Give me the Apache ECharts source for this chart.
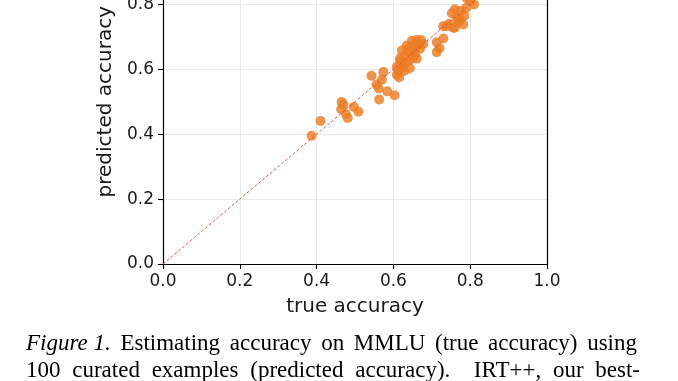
<!DOCTYPE html>
<html>
<head>
<meta charset="utf-8">
<script src="https://cdn.jsdelivr.net/npm/echarts@6/dist/echarts.min.js"></script>
<style>
html,body{margin:0;padding:0;background:#fff;overflow:hidden;width:678px;height:381px;}
#wrap{position:relative;width:678px;height:381px;overflow:hidden;}
#chart{position:absolute;left:0;top:-69px;width:678px;height:450px;}
</style>
</head>
<body>
<div id="wrap"><div id="chart"></div></div>
<script>
// true accuracy (x) and predicted accuracy (y) per model
const trueAcc = [
  0.387,0.410,0.465,0.470,0.464,0.476,0.481,0.497,0.509,
  0.543,0.563,0.574,0.556,0.562,0.584,0.603,0.570,0.609,0.615,
  0.622,0.635,0.661,0.669,0.652,0.635,0.622,0.609,0.643,0.630,0.678,0.648,0.617,0.661,
  0.626,0.640,0.655,0.665,0.645,0.656,0.672,0.628,0.618,0.650,0.660,0.638,0.612,
  0.713,0.730,0.713,0.720,0.730,0.756,0.782,0.752,0.773,0.739,0.760,0.745,0.765,0.775,0.790,0.760,0.785,0.770,
  0.800,0.820,0.790,0.840,0.810
];
const predAcc = [
  0.395,0.441,0.499,0.492,0.477,0.462,0.450,0.484,0.469,
  0.580,0.507,0.592,0.553,0.541,0.532,0.520,0.568,0.583,0.575,
  0.658,0.673,0.683,0.663,0.638,0.623,0.603,0.608,0.603,0.643,0.678,0.688,0.633,0.633,
  0.615,0.650,0.660,0.675,0.630,0.648,0.690,0.595,0.625,0.670,0.690,0.660,0.598,
  0.683,0.695,0.653,0.665,0.733,0.728,0.738,0.773,0.753,0.733,0.728,0.740,0.760,0.780,0.790,0.785,0.765,0.745,
  0.810,0.830,0.820,0.850,0.800
];
// reference diagonal y = x
const diagonal = [0, 1];
const xTicks = [0.0, 0.2, 0.4, 0.6, 0.8, 1.0];
const yTicks = [0.0, 0.2, 0.4, 0.6, 0.8, 1.0];
const captionLine1 = [['Figure 1.', true], ['Estimating', false], ['accuracy', false], ['on', false], ['MMLU', false], ['(true', false], ['accuracy)', false], ['using', false]];
const captionLine2 = [['100', false], ['curated', false], ['examples', false], ['(predicted', false], ['accuracy).', false], ['IRT++,', false], ['our', false], ['best-', false]];

const points = trueAcc.map((v, i) => [v, predAcc[i]]);
const diagLine = diagonal.map(v => [v, v]);

// caption layout (justified text, like the paper)
const OFFSET = 69; // chart canvas is shifted up by this many px
const capFontSize = 23;
const ctx = document.createElement('canvas').getContext('2d');
function fontStr(it) { return (it ? 'italic ' : '') + capFontSize + 'px "Liberation Serif"'; }
function justify(words, left, right, top, extraGapAfter) {
  const widths = words.map(w => { ctx.font = fontStr(w[1]); return ctx.measureText(w[0]).width; });
  const total = widths.reduce((a, b) => a + b, 0);
  const gaps = words.length - 1;
  const extra = extraGapAfter != null ? 1 : 0;
  const gap = (right - left - total) / (gaps + extra);
  const out = [];
  let x = left;
  words.forEach((w, i) => {
    out.push({type: 'text', x: x, y: top + OFFSET, silent: true,
      style: {text: w[0], font: fontStr(w[1]), fill: '#000'}});
    x += widths[i] + gap + (extraGapAfter === i ? gap : 0);
  });
  return out;
}
const captionElems = justify(captionLine1, 26, 637, 332, null)
  .concat(justify(captionLine2, 26, 640, 359, 4));

const chart = echarts.init(document.getElementById('chart'), null, {renderer: 'canvas'});
const tickFont = {fontFamily: 'DejaVu Sans', fontSize: 17, color: '#1a1a1a'};
chart.setOption({
  animation: false,
  backgroundColor: '#fff',
  grid: {left: 163, right: 131, top: 0, bottom: 117, containLabel: false},
  xAxis: [{
    type: 'value', min: 0, max: 1, interval: 0.2,
    name: 'true accuracy', nameLocation: 'middle', nameGap: 33,
    nameTextStyle: {fontFamily: 'DejaVu Sans', fontSize: 20, color: '#1a1a1a'},
    axisLine: {show: true, onZero: false, lineStyle: {color: '#000', width: 1.2}},
    axisTick: {show: true, inside: false, length: 5, lineStyle: {color: '#000', width: 1.1}},
    axisLabel: Object.assign({margin: 9, formatter: v => xTicks.includes(+v.toFixed(1)) ? v.toFixed(1) : ''}, tickFont),
    splitLine: {show: true, lineStyle: {color: '#ebebeb', width: 1}}
  }, {
    type: 'value', min: 0, max: 1, position: 'top',
    axisLine: {show: true, onZero: false, lineStyle: {color: '#000', width: 1.2}},
    axisTick: {show: false}, axisLabel: {show: false}, splitLine: {show: false}
  }],
  yAxis: [{
    type: 'value', min: 0, max: 1, interval: 0.2,
    name: 'predicted accuracy', nameLocation: 'middle', nameGap: 47,
    nameTextStyle: {fontFamily: 'DejaVu Sans', fontSize: 20, color: '#1a1a1a'},
    axisLine: {show: true, onZero: false, lineStyle: {color: '#000', width: 1.2}},
    axisTick: {show: true, inside: false, length: 5, lineStyle: {color: '#000', width: 1.1}},
    axisLabel: Object.assign({margin: 9, formatter: v => yTicks.includes(+v.toFixed(1)) ? v.toFixed(1) : ''}, tickFont),
    splitLine: {show: true, lineStyle: {color: '#ebebeb', width: 1}}
  }, {
    type: 'value', min: 0, max: 1, position: 'right',
    axisLine: {show: true, onZero: false, lineStyle: {color: '#000', width: 1.2}},
    axisTick: {show: false}, axisLabel: {show: false}, splitLine: {show: false}
  }],
  series: [{
    type: 'scatter',
    data: points,
    symbolSize: 10,
    itemStyle: {color: 'rgb(236,124,36)', opacity: 0.82},
    z: 2
  }, {
    type: 'line',
    data: diagLine,
    symbol: 'none',
    lineStyle: {color: '#ee4444', width: 1, type: [3, 2], opacity: 0.9},
    z: 3
  }],
  graphic: captionElems
});
</script>
</body>
</html>
